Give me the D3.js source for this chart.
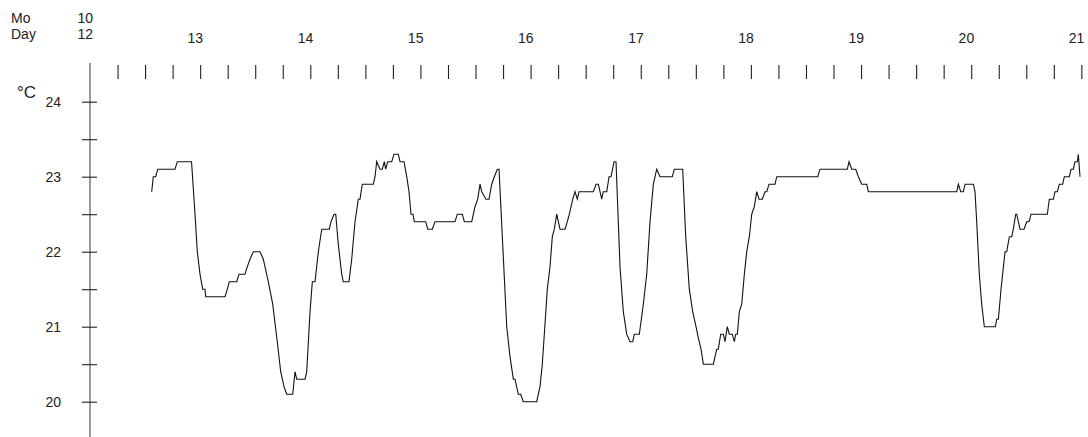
<!DOCTYPE html>
<html>
<head>
<meta charset="utf-8">
<script src="https://cdn.jsdelivr.net/npm/d3@7"></script>
<style>
  body { margin: 0; background: #fff; }
  svg text { font-family: "Liberation Sans Narrow", "Liberation Sans", Arial, sans-serif; fill: #222; }
</style>
</head>
<body>
<div id="chart"></div>
<script>
// hours since Oct 12 00:00
const hours = [
  13.44, 13.79, 14.32, 14.75, 18.52, 19.02, 22.12, 22.88, 23.38, 23.97,
  24.56, 25.06, 25.21, 29.42, 29.92, 30.35, 31.97, 32.47, 33.77, 34.27,
  34.86, 35.58, 37.04, 37.76, 38.85, 39.81, 40.81, 41.55, 42.27, 42.86,
  44.17, 44.67, 45.04, 46.85, 47.22, 47.94, 48.44, 49.03, 49.75, 50.49,
  52.14, 52.51, 53.17, 53.54, 54.10, 54.84, 55.19, 56.43, 57.02, 57.74,
  58.46, 58.83, 59.33, 61.73, 62.10, 62.47, 63.19, 63.69, 64.13, 64.43,
  64.87, 65.74, 66.24, 67.18, 67.55, 68.42, 69.01, 69.51, 69.94, 70.38,
  70.66, 73.15, 73.58, 74.59, 75.17, 79.53, 80.03, 81.12, 81.56, 83.17,
  83.89, 84.48, 84.98, 85.35, 86.28, 86.94, 87.53, 88.10, 88.75, 89.12,
  89.84, 90.80, 91.51, 92.24, 92.60, 93.32, 93.85, 94.41, 97.33, 98.05,
  98.55, 98.99, 99.64, 100.23, 100.73, 101.17, 101.69, 102.41, 103.50, 104.00,
  104.44, 105.18, 105.68, 106.18, 106.55, 109.67, 110.25, 110.76, 111.49, 111.84,
  112.59, 113.09, 113.52, 114.18, 114.61, 115.48, 116.20, 116.94, 117.66, 118.25,
  118.60, 119.69, 120.56, 121.30, 122.02, 122.74, 123.48, 124.20, 126.88, 127.32,
  129.14, 129.80, 130.58, 131.32, 132.04, 132.54, 133.13, 133.64, 135.81, 136.55,
  136.90, 137.42, 137.99, 138.36, 138.86, 139.30, 139.95, 140.39, 140.69, 141.04,
  141.48, 142.00, 142.57, 143.09, 143.66, 144.18, 144.75, 145.27, 145.77, 146.49,
  147.08, 147.45, 147.95, 149.25, 149.63, 158.56, 159.06, 165.01, 165.38, 165.97,
  166.84, 167.41, 168.15, 169.24, 169.59, 188.85, 189.20, 189.72, 190.29, 190.66,
  192.47, 192.83, 193.20, 193.77, 194.29, 194.86, 195.23, 197.26, 197.57, 197.92,
  198.50, 199.37, 199.74, 200.31, 200.83, 201.18, 201.70, 201.92, 202.64, 203.51,
  204.10, 204.60, 205.04, 208.59, 209.02, 209.90, 210.27, 210.77, 211.20, 211.94,
  212.29, 213.38, 213.75, 214.26, 214.62, 215.13, 215.34, 215.71
];
const temps = [
  22.8, 23.0, 23.0, 23.1, 23.1, 23.2, 23.2, 22.5, 22.0, 21.7,
  21.5, 21.5, 21.4, 21.4, 21.5, 21.6, 21.6, 21.7, 21.7, 21.8,
  21.9, 22.0, 22.0, 21.9, 21.6, 21.3, 20.8, 20.4, 20.2, 20.1,
  20.1, 20.4, 20.3, 20.3, 20.4, 21.2, 21.6, 21.6, 22.0, 22.3,
  22.3, 22.4, 22.5, 22.5, 22.1, 21.7, 21.6, 21.6, 21.9, 22.4,
  22.7, 22.7, 22.9, 22.9, 23.0, 23.2, 23.1, 23.1, 23.2, 23.1,
  23.2, 23.2, 23.3, 23.3, 23.2, 23.2, 23.0, 22.8, 22.5, 22.5,
  22.4, 22.4, 22.3, 22.3, 22.4, 22.4, 22.5, 22.5, 22.4, 22.4,
  22.6, 22.7, 22.9, 22.8, 22.7, 22.7, 22.9, 23.0, 23.1, 23.1,
  22.2, 21.0, 20.6, 20.3, 20.3, 20.1, 20.1, 20.0, 20.0, 20.2,
  20.5, 20.9, 21.5, 21.8, 22.2, 22.3, 22.5, 22.3, 22.3, 22.4,
  22.5, 22.7, 22.8, 22.7, 22.8, 22.8, 22.9, 22.9, 22.7, 22.8,
  22.8, 23.0, 23.0, 23.2, 23.2, 21.8, 21.2, 20.9, 20.8, 20.8,
  20.9, 20.9, 21.3, 21.7, 22.4, 22.9, 23.1, 23.0, 23.0, 23.1,
  23.1, 22.2, 21.5, 21.2, 21.0, 20.85, 20.7, 20.5, 20.5, 20.7,
  20.7, 20.9, 20.9, 20.8, 21.0, 20.9, 20.9, 20.8, 20.9, 20.9,
  21.2, 21.3, 21.7, 22.0, 22.2, 22.5, 22.6, 22.8, 22.7, 22.7,
  22.8, 22.8, 22.9, 22.9, 23.0, 23.0, 23.1, 23.1, 23.2, 23.1,
  23.1, 23.0, 22.9, 22.9, 22.8, 22.8, 22.9, 22.8, 22.8, 22.9,
  22.9, 22.8, 22.4, 21.7, 21.3, 21.0, 21.0, 21.0, 21.1, 21.1,
  21.5, 22.0, 22.0, 22.2, 22.2, 22.3, 22.5, 22.5, 22.3, 22.3,
  22.4, 22.4, 22.5, 22.5, 22.7, 22.7, 22.8, 22.8, 22.9, 22.9,
  23.0, 23.0, 23.1, 23.1, 23.2, 23.2, 23.3, 23.0
];
const dayLabels = ["12", "13", "14", "15", "16", "17", "18", "19", "20", "21"];
const yTicks = [20, 20.5, 21, 21.5, 22, 22.5, 23, 23.5, 24];
const xTicks = d3.range(6, 217, 6); // every 6 hours

const width = 1088, height = 437;

const svg = d3.select("#chart").append("svg")
    .attr("width", width)
    .attr("height", height);

// scales
const x = d3.scaleLinear().domain([0, 216]).range([90, 1081.35]);
const y = d3.scaleLinear().domain([20, 24]).range([401.7, 101.7]);

// top header
svg.append("text").attr("x", 11).attr("y", 23).attr("font-size", 14).text("Mo");
svg.append("text").attr("x", 11).attr("y", 39).attr("font-size", 14).text("Day");
svg.append("text").attr("x", x(0) + 3).attr("y", 23)
    .attr("text-anchor", "end").attr("font-size", 14).text("10");

svg.selectAll(".day-label")
    .data(dayLabels)
    .enter().append("text")
    .attr("class", "day-label")
    .attr("x", (d, i) => x(i * 24) + 3)
    .attr("y", (d, i) => i === 0 ? 39 : 43)
    .attr("text-anchor", "end")
    .attr("font-size", 14)
    .text(d => d);

// 6-hour tick row
const xAxis = d3.axisBottom(x)
    .tickValues(xTicks)
    .tickSize(14)
    .tickFormat("");
const gx = svg.append("g")
    .attr("class", "x-axis")
    .attr("transform", "translate(0,65)")
    .call(xAxis);
gx.select(".domain").remove();
gx.selectAll(".tick line").attr("stroke", "#222").attr("stroke-width", 1.1);

// y axis
svg.append("line")
    .attr("x1", 90).attr("x2", 90)
    .attr("y1", 63).attr("y2", height)
    .attr("stroke", "#777").attr("stroke-width", 1.5);

const yAxis = d3.axisLeft(y)
    .tickValues(yTicks)
    .tickSize(15)
    .tickPadding(21)
    .tickFormat(d => Number.isInteger(d) ? d : "");
const gy = svg.append("g")
    .attr("class", "y-axis")
    .attr("transform", "translate(97,0)")
    .call(yAxis);
gy.select(".domain").remove();
gy.selectAll(".tick line").attr("stroke", "#222").attr("stroke-width", 1.1);
gy.selectAll(".tick text")
    .attr("font-size", 14)
    .attr("font-family", "'Liberation Sans Narrow', 'Liberation Sans', Arial, sans-serif")
    .attr("fill", "#222");

// unit label
svg.append("text").attr("x", 17).attr("y", 98)
    .attr("font-size", 17).text("°C");

// temperature line
const series = hours.map((h, i) => ({h: h, t: temps[i]}));
const line = d3.line()
    .x(d => x(d.h))
    .y(d => y(d.t));

svg.append("path")
    .datum(series)
    .attr("fill", "none")
    .attr("stroke", "#111")
    .attr("stroke-width", 1.1)
    .attr("d", line);
</script>
</body>
</html>
